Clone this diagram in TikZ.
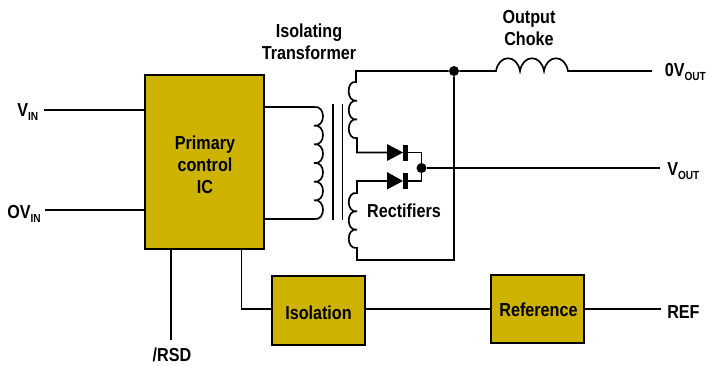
\documentclass[tikz,border=0pt]{standalone}
\usepackage{fontspec}
\setmainfont[FakeStretch=0.86]{Liberation Sans Bold}
\newcommand{\lowtxt}[1]{\raisebox{-3pt}{\fontsize{8.8}{8.8}\selectfont #1}}
\definecolor{boxgold}{HTML}{CDB300}
\tikzset{
  wire/.style={line width=1.25pt,black},
  blockbox/.style={draw=black,line width=1.25pt,fill=boxgold,inner sep=0pt},
  lbl/.style={inner sep=0pt,font=\fontsize{14.1}{16.5}\selectfont,align=center,text=black},
  junction/.style={circle,fill=black,inner sep=0pt,minimum size=7.5pt},
  corebar/.style={line width=1.1pt,black}
}
\begin{document}
\begin{tikzpicture}[x=0.75pt,y=-0.75pt]
\useasboundingbox (0,0) rectangle (706,365);
\fill[white] (0,0) rectangle (706,365);
% blocks
\node[blockbox,minimum width=89.25pt,minimum height=130.5pt] (ic) at (204.5,162) {};
\node[blockbox,minimum width=70pt,minimum height=51.75pt] (iso) at (318.5,310.5) {};
\node[blockbox,minimum width=70pt,minimum height=51pt] (ref) at (537.5,309) {};
% free ends
\coordinate (vin) at (44,110);
\coordinate (ovin) at (45,210);
\coordinate (rsd) at (171,340);
\coordinate (icrsd) at (171,249);
\coordinate (icvin) at (145,110);
\coordinate (icovin) at (145,210);
\coordinate (icfb) at (241.5,249);
\coordinate (isoin) at (271.5,309);
\coordinate (isoout) at (365,309);
\coordinate (refin) at (491,309);
\coordinate (refout) at (584,309);
\coordinate (refend) at (661,309);
\coordinate (pt) at (264,107);
\coordinate (pb) at (264,219);
\node[junction] (j1) at (454,71) {};
\node[junction] (j2) at (421.5,168) {};
\coordinate (chokeL) at (496,71);
\coordinate (chokeR) at (568,71);
\coordinate (ovout) at (652,71);
\coordinate (vout) at (660,168);
% wires
\draw[wire] (vin) -- (icvin);
\draw[wire] (ovin) -- (icovin);
\draw[wire] (icrsd) -- (rsd);
\draw[wire] (icfb) |- (isoin);
\draw[wire] (isoout) -- (refin);
\draw[wire] (refout) -- (refend);
% primary winding
\draw[wire] (pt) -- (314,107)
  \foreach \i [evaluate=\i as \a using {107+(\i-1)*18.67}, evaluate=\i as \b using {107+\i*18.67}] in {1,...,6}
  { .. controls (326,{\a-2}) and (326,{\b+2}) .. (314,\b) } -- (pb);
% core
\draw[corebar] (333,104) -- (333,220);
\draw[corebar] (342.5,104) -- (342.5,220);
% upper secondary
\draw[wire] (j1) -- (356,71) -- (356,82)
  \foreach \i [evaluate=\i as \a using {82+(\i-1)*18.7}, evaluate=\i as \b using {82+\i*18.7}] in {1,2,3}
  { .. controls (346,{\a-2}) and (346,{\b+2}) .. (357,\b) } -- (357,152.5) -- (387,152.5);
% lower secondary
\draw[wire] (387,181) -- (357,181) -- (357,193)
  \foreach \i [evaluate=\i as \a using {193+(\i-1)*18.3}, evaluate=\i as \b using {193+\i*18.3}] in {1,2,3}
  { .. controls (346,{\a-2}) and (346,{\b+2}) .. (357,\b) } -- (357,260) -- (454,260) -- (j1);
% diodes
\fill (387,144) -- (387,161) -- (403,152.5) -- cycle;
\fill (403,144.5) rectangle (407.5,161);
\fill (387,172) -- (387,189.5) -- (403,181) -- cycle;
\fill (403,172.5) rectangle (407.5,189);
\draw[wire] (407,152.5) -- (421.5,152.5) -- (421.5,181) -- (407,181);
\draw[wire] (j2) -- (vout);
% choke
\draw[wire] (j1) -- (chokeL)
  .. controls (499,54) and (517,54) .. (520,71)
  .. controls (523,54) and (541,54) .. (544,71)
  .. controls (547,54) and (565,54) .. (568,71) -- (chokeR) -- (ovout);
% labels
\node[lbl] (tIso) at (309,42) {Isolating\\Transformer};
\node[lbl] (tChoke) at (529,28) {Output\\Choke};
\node[lbl] (tIC) at (205,165) {Primary\\control\\IC};
\node[lbl] (tIsol) at (318.5,313) {Isolation};
\node[lbl] (tRef) at (538.5,310) {Reference};
\node[lbl] (tRect) at (404,211) {Rectifiers};
\node[lbl,anchor=west] (tVin) at (17,112) {V\lowtxt{IN}};
\node[lbl,anchor=west] (tOvin) at (7,214) {OV\lowtxt{IN}};
\node[lbl] (tRsd) at (172,354.5) {/RSD};
\node[lbl,anchor=west] (t0v) at (664.5,72) {0V\lowtxt{OUT}};
\node[lbl,anchor=west] (tVout) at (667,171) {V\lowtxt{OUT}};
\node[lbl,anchor=west] (tRefo) at (667,312) {REF};
\end{tikzpicture}
\end{document}
